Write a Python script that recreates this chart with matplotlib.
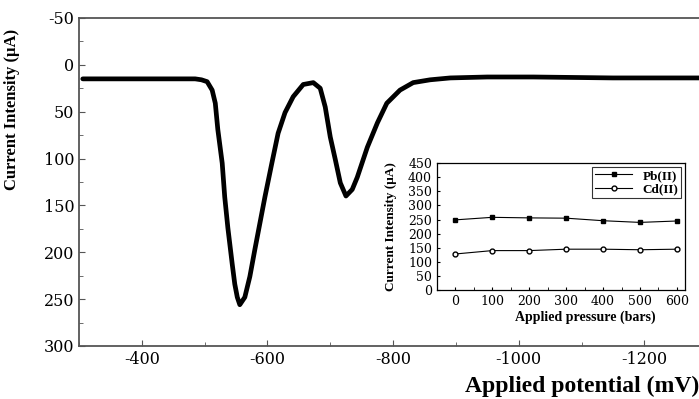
import numpy as np
import matplotlib.pyplot as plt
from matplotlib.ticker import MultipleLocator

# voltammogram (mV, uA)
potential = [-306, -400, -485, -495, -504, -512, -517, -521, -528, -532, -537, -544,
             -548, -552, -556, -564, -572, -580, -588, -596, -607, -617, -628, -641, -657,
             -673, -684, -692, -700, -708, -716, -725, -735, -743, -759, -775, -790,
             -811, -832, -859, -891, -950, -1023, -1150, -1287]
current = [15, 15, 15, 16, 18, 27, 41, 69, 105, 141, 174, 213,
           234, 248, 256, 248, 226, 197, 169, 141, 105, 73, 51, 34, 21,
           19, 25, 45, 77, 101, 126, 140, 133, 120, 88, 62, 41,
           27, 19, 16, 14, 13, 13, 14, 14]

# inset: peak current vs applied pressure
pressure = [0, 100, 200, 300, 400, 500, 600]
pb_current = [249, 258, 256, 255, 246, 240, 245]
cd_current = [128, 140, 140, 145, 145, 143, 145]

plt.rcParams['font.family'] = 'DejaVu Serif'
plt.rcParams['axes.unicode_minus'] = False

fig = plt.figure(figsize=(6.99, 3.99), dpi=100)
ax = fig.add_axes([0.113, 0.133, 0.887, 0.822])
ax.plot(potential, current, color='black', linewidth=3.4,
        solid_joinstyle='round', solid_capstyle='round')

ax.set_xlim(-300, -1287)
ax.set_ylim(300, -50)
ax.set_xticks([-400, -600, -800, -1000, -1200])
ax.xaxis.set_minor_locator(MultipleLocator(100))
ax.set_yticks(np.arange(-50, 301, 50))
ax.yaxis.set_minor_locator(MultipleLocator(25))
ax.tick_params(which='both', direction='in', labelsize=11.5, color='#555555')
ax.tick_params(which='major', length=4)
ax.tick_params(which='minor', length=3)
for side in ['left', 'bottom', 'top']:
    ax.spines[side].set_color('#555555')
    ax.spines[side].set_linewidth(1.3)
ax.spines['right'].set_visible(False)

ax.set_xlabel('Applied potential (mV)', fontsize=17, fontweight='bold', family='Liberation Serif')
ax.xaxis.set_label_coords(1.0, -0.09)
ax.xaxis.label.set_horizontalalignment('right')
ax.set_ylabel('Current Intensity (μA)', fontsize=12, fontweight='bold', family='Liberation Serif')
ax.yaxis.set_label_coords(-0.095, 0.72)

# inset
ins = fig.add_axes([0.625, 0.273, 0.355, 0.318])
ins.plot(pressure, pb_current, color='black', linewidth=0.8, marker='s', markersize=3.5, label='Pb(II)')
ins.plot(pressure, cd_current, color='black', linewidth=0.8, marker='o', markersize=3.5,
         markerfacecolor='white', label='Cd(II)')
ins.set_xlim(-50, 622)
ins.set_ylim(0, 450)
ins.set_xticks(pressure)
ins.xaxis.set_minor_locator(MultipleLocator(50))
ins.set_yticks(np.arange(0, 451, 50))
ins.tick_params(which='both', direction='in', labelsize=9, length=2)
for s in ins.spines.values():
    s.set_linewidth(0.9)
ins.set_xlabel('Applied pressure (bars)', fontsize=10, fontweight='bold', family='Liberation Serif')
ins.xaxis.set_label_coords(0.6, -0.16)
ins.set_ylabel('Current Intensity (μA)', fontsize=9.5, fontweight='bold', family='Liberation Serif')
ins.yaxis.set_label_coords(-0.16, 0.5)

leg = ins.legend(loc='upper right', prop={'family': 'Liberation Serif', 'weight': 'bold', 'size': 9.5},
                 frameon=True, fancybox=False, shadow=False, handlelength=2.8,
                 borderpad=0.2, labelspacing=0.1, borderaxespad=0.3)
leg.get_frame().set_edgecolor('black')
leg.get_frame().set_linewidth(0.8)

fig.savefig('out.png', dpi=100)
